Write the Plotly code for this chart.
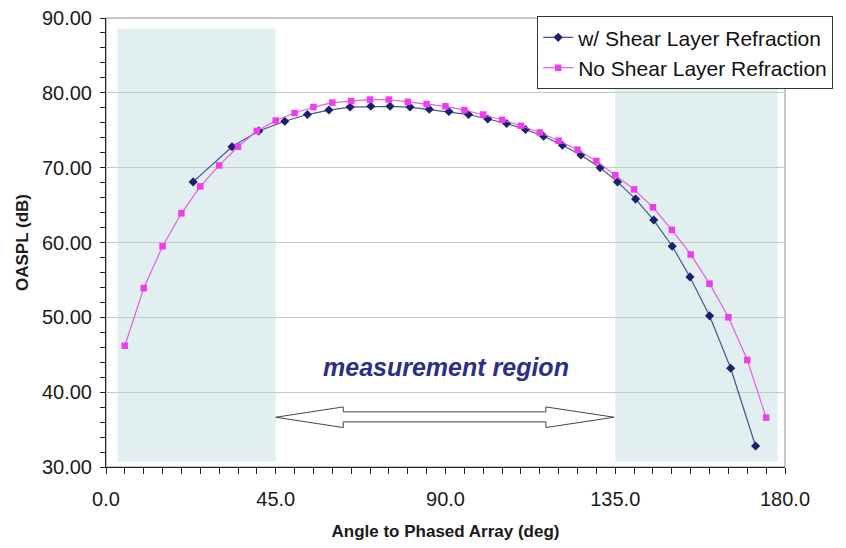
import plotly.graph_objects as go

# OASPL directivity, with and without the shear-layer refraction correction
angle_shear = [23.1, 33.4, 40.5, 47.4, 53.4, 59.1, 64.7, 70.2, 75.3, 80.6, 85.7, 90.9,
               96.1, 101.2, 106.2, 111.2, 116.0, 121.0, 125.9, 131.0, 135.6, 140.4,
               145.2, 150.1, 154.8, 160.0, 165.6, 172.2]
oaspl_shear = [68.1, 72.8, 74.9, 76.2, 77.1, 77.7, 78.1, 78.2, 78.2, 78.1, 77.8, 77.5,
               77.1, 76.5, 75.9, 75.1, 74.2, 73.0, 71.7, 70.0, 68.1, 65.8,
               63.0, 59.5, 55.4, 50.2, 43.2, 32.8]

angle_noshear = [5, 10, 15, 20, 25, 30, 35, 40, 45, 50, 55, 60, 65, 70, 75, 80, 85, 90,
                 95, 100, 105, 110, 115, 120, 125, 130, 135, 140, 145, 150, 155, 160,
                 165, 170, 175]
oaspl_noshear = [46.2, 53.9, 59.5, 63.9, 67.5, 70.3, 72.8, 74.9, 76.3, 77.3, 78.1, 78.7,
                 78.9, 79.1, 79.1, 78.8, 78.5, 78.2, 77.7, 77.1, 76.4, 75.6, 74.7, 73.6,
                 72.4, 70.9, 69.0, 67.1, 64.7, 61.7, 58.4, 54.5, 50.0, 44.3, 36.6]

# shaded bands outside the measurement region: (x0, x1, y0, y1)
bands = [(3.0, 45.0, 30.7, 88.6), (135.0, 178.0, 30.7, 81.3)]

# hollow double arrow spanning the measurement region
arrow_x = [45.0, 62.9, 116.6, 134.7]
arrow_y = [36.65, 38.03, 37.37, 36.03, 35.27]

fig = go.Figure()

for x0, x1, y0, y1 in bands:
    fig.add_shape(type="rect", x0=x0, x1=x1, y0=y0, y1=y1, xref="x", yref="y",
                  fillcolor="#e1eff1", line=dict(width=0), layer="below")

fig.add_trace(go.Scatter(
    x=angle_shear, y=oaspl_shear, mode="lines+markers",
    name="w/ Shear Layer Refraction",
    line=dict(color="#4b5096", width=1.2),
    marker=dict(symbol="diamond", size=7, color="#1c1f6b"),
))
fig.add_trace(go.Scatter(
    x=angle_noshear, y=oaspl_noshear, mode="lines+markers",
    name="No Shear Layer Refraction",
    line=dict(color="#e85ce8", width=1.2),
    marker=dict(symbol="square", size=6.5, color="#ee3cee"),
))

tip_l, base_l, base_r, tip_r = arrow_x
mid, head_top, shaft_top, shaft_bot, head_bot = arrow_y
path = (f"M {tip_l} {mid} L {base_l} {head_top} L {base_l} {shaft_top} "
        f"L {base_r} {shaft_top} L {base_r} {head_top} L {tip_r} {mid} "
        f"L {base_r} {head_bot} L {base_r} {shaft_bot} L {base_l} {shaft_bot} "
        f"L {base_l} {head_bot} Z")
fig.add_shape(type="path", path=path, xref="x", yref="y",
              fillcolor="white", line=dict(color="#444444", width=1))

fig.add_annotation(x=90, y=43.4, xref="x", yref="y", text="<b><i>measurement region</i></b>",
                   showarrow=False, font=dict(family="Arial, Liberation Sans", size=25,
                                              color="#2d2d8c"))

# plot-area frame
fig.add_shape(type="rect", x0=0, x1=1, y0=0, y1=1, xref="paper", yref="paper",
              line=dict(color="#8c8c8c", width=1), layer="below")

fig.update_layout(
    width=846, height=548,
    margin=dict(l=106, r=61, t=18, b=81, autoexpand=False),
    paper_bgcolor="white", plot_bgcolor="white",
    font=dict(family="Arial, Liberation Sans", size=20, color="#1a1a1a"),
    showlegend=True,
    legend=dict(x=0.635, y=1.004, xanchor="left", yanchor="top",
                bgcolor="white", bordercolor="#333333", borderwidth=1,
                font=dict(size=21, color="#111111"), tracegroupgap=0,
                itemwidth=30),
)

fig.update_xaxes(
    range=[0, 180], tickmode="linear", tick0=0, dtick=45, tickformat=".1f",
    ticks="outside", ticklen=6, tickcolor="#222222",
    minor=dict(dtick=5, ticks="outside", ticklen=6, tickcolor="#222222"),
    showline=True, linecolor="#222222", linewidth=1, showgrid=False, zeroline=False,
    ticklabelstandoff=8, automargin=False,
    title=dict(text="<b>Angle to Phased Array (deg)</b>", font=dict(size=17), standoff=16),
)
fig.update_yaxes(
    range=[30, 90], tickmode="linear", tick0=30, dtick=10, tickformat=".2f",
    ticks="outside", ticklen=5, tickcolor="#222222",
    minor=dict(dtick=2, ticks="outside", ticklen=5, tickcolor="#222222", showgrid=False),
    showline=True, linecolor="#222222", linewidth=1,
    showgrid=True, gridcolor="#c8c8c8", gridwidth=1, zeroline=False,
    ticklabelstandoff=4, automargin=False,
    title=dict(text="<b>OASPL (dB)</b>", font=dict(size=17), standoff=8),
)

fig.write_html("out.html")
